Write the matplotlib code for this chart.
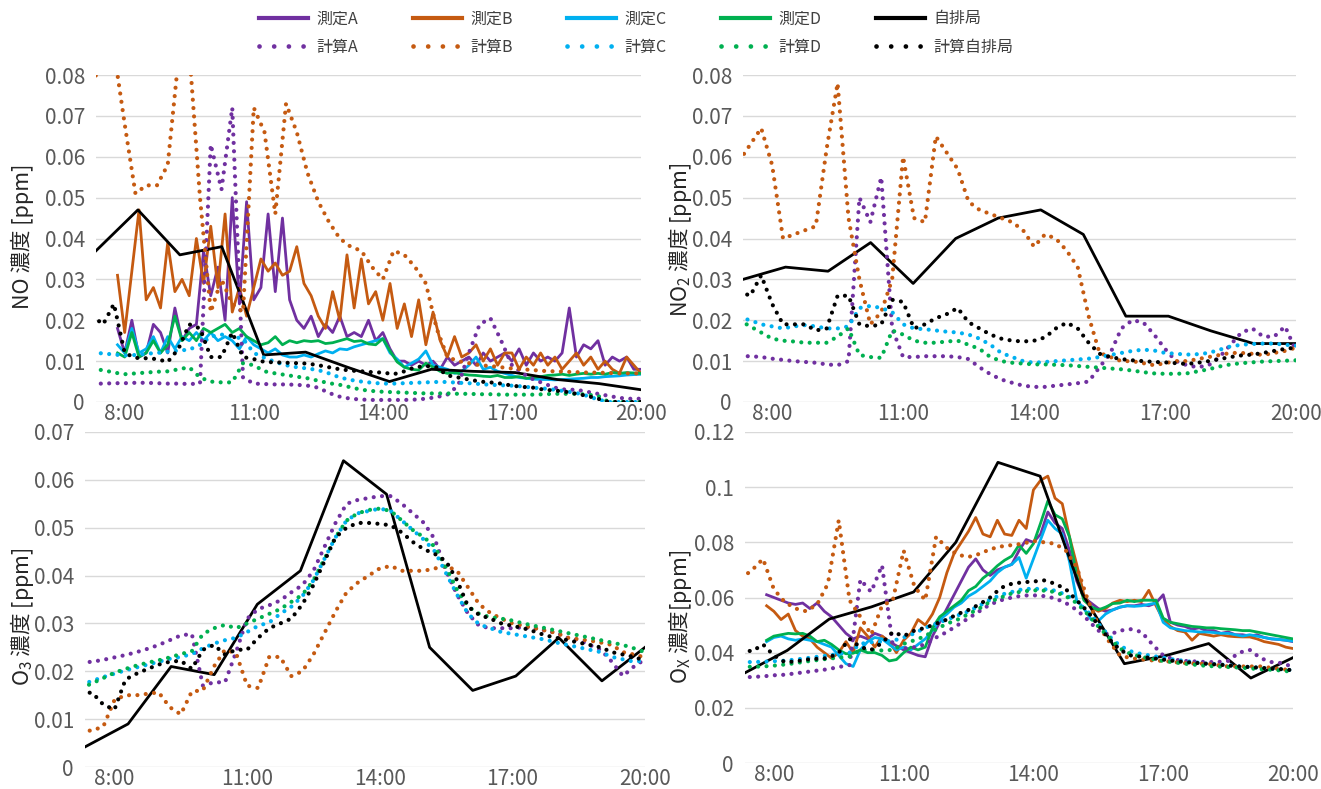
import numpy as np
import matplotlib
matplotlib.use('Agg')
import matplotlib.pyplot as plt
from matplotlib.lines import Line2D
from matplotlib.ticker import FuncFormatter, MultipleLocator

plt.rcParams['font.family'] = ['Noto Sans CJK JP', 'DejaVu Sans']
plt.rcParams['mathtext.default'] = 'regular'

# ---- time grids (hours) ----
t_meas = 7 + 50 / 60 + np.arange(74) / 6      # 測定: 10 min, 7:50-20:00
t_calc = 7.25 + np.arange(52) * 0.25          # 計算: 15 min, 7:15-20:00
t_jihai = np.linspace(7 + 20 / 60, 20, 14)    # 自排局: hourly points across the axis

xticks = [8, 11, 14, 17, 20]
xticklabels = ['8:00', '11:00', '14:00', '17:00', '20:00']

# ---- NO ----
no_meas_a = [
    0.018,
    0.012, 0.020, 0.011, 0.012, 0.019, 0.017,
    0.012, 0.023, 0.015, 0.018, 0.019, 0.037,
    0.026, 0.033, 0.020, 0.050, 0.024, 0.049,
    0.025, 0.028, 0.046, 0.027, 0.045, 0.025,
    0.020, 0.018, 0.021, 0.016, 0.019, 0.017,
    0.021, 0.016, 0.017, 0.016, 0.020, 0.015,
    0.017, 0.013, 0.010, 0.010, 0.009, 0.010,
    0.009, 0.010, 0.008, 0.011, 0.009, 0.010,
    0.011, 0.009, 0.012, 0.010, 0.011, 0.012,
    0.010, 0.013, 0.009, 0.012, 0.010, 0.011,
    0.010, 0.012, 0.023, 0.011, 0.014, 0.013,
    0.015, 0.009, 0.011, 0.010, 0.011, 0.008,
    0.008,
]
no_meas_b = [
    0.031,
    0.017, 0.032, 0.047, 0.025, 0.028, 0.023,
    0.039, 0.027, 0.030, 0.026, 0.040, 0.029,
    0.043, 0.028, 0.046, 0.022, 0.028, 0.021,
    0.028, 0.035, 0.032, 0.034, 0.031, 0.032,
    0.038, 0.029, 0.026, 0.021, 0.018, 0.027,
    0.020, 0.036, 0.023, 0.035, 0.024, 0.027,
    0.020, 0.029, 0.018, 0.024, 0.016, 0.025,
    0.014, 0.022, 0.015, 0.011, 0.016, 0.011,
    0.012, 0.014, 0.010, 0.013, 0.009, 0.012,
    0.012, 0.008, 0.011, 0.009, 0.012, 0.009,
    0.011, 0.008, 0.010, 0.012, 0.009, 0.011,
    0.008, 0.010, 0.008, 0.007, 0.011, 0.009,
    0.007,
]
no_meas_c = [
    0.014,
    0.012, 0.018, 0.012, 0.013, 0.016, 0.012,
    0.016, 0.013, 0.016, 0.015, 0.017, 0.015,
    0.017, 0.015, 0.016, 0.015, 0.013, 0.016,
    0.014, 0.013, 0.012, 0.013, 0.0115, 0.011,
    0.011, 0.0115, 0.011, 0.0118, 0.0125, 0.012,
    0.013, 0.0128, 0.0135, 0.014, 0.0145, 0.015,
    0.0155, 0.012, 0.0105, 0.0085, 0.0095, 0.0105,
    0.0125, 0.009, 0.0085, 0.008, 0.007, 0.0075,
    0.009, 0.011, 0.008, 0.0085, 0.0075, 0.007,
    0.0065, 0.006, 0.0058, 0.0056, 0.0055, 0.0055,
    0.0054, 0.0055, 0.0056, 0.0057, 0.0058, 0.006,
    0.006, 0.0062, 0.0063, 0.0064, 0.0066, 0.0067,
    0.0068,
]
no_meas_d = [
    0.012,
    0.011, 0.017, 0.011, 0.012, 0.015, 0.012,
    0.014, 0.021, 0.015, 0.017, 0.015, 0.018,
    0.017, 0.018, 0.019, 0.017, 0.018, 0.016,
    0.015, 0.014, 0.0145, 0.016, 0.014, 0.015,
    0.0145, 0.015, 0.0148, 0.015, 0.0143, 0.0145,
    0.015, 0.0155, 0.0148, 0.015, 0.0142, 0.014,
    0.0155, 0.0125, 0.0098, 0.0085, 0.008, 0.0078,
    0.0095, 0.0085, 0.0075, 0.007, 0.0072, 0.0068,
    0.0066, 0.0065, 0.0063, 0.0062, 0.0065, 0.006,
    0.006, 0.0062, 0.0058, 0.006, 0.0062, 0.0065,
    0.0066, 0.0068, 0.0065, 0.0068, 0.007, 0.0068,
    0.007, 0.0068, 0.0072, 0.007, 0.0072, 0.0071,
    0.007,
]
no_calc_a = [
    0.0045, 0.0045, 0.0046,
    0.0046, 0.0047, 0.0047, 0.0046,
    0.0045, 0.0045, 0.0044, 0.0045,
    0.063, 0.052, 0.072, 0.006,
    0.0045, 0.0044, 0.0043, 0.0043,
    0.0042, 0.004, 0.0035, 0.0022,
    0.0013, 0.0008, 0.0006, 0.0005,
    0.0005, 0.0005, 0.0005, 0.0006,
    0.0008, 0.0012, 0.0018, 0.004,
    0.012, 0.019, 0.0205, 0.015,
    0.009, 0.007, 0.0055, 0.0045,
    0.0035, 0.003, 0.003, 0.0025,
    0.002, 0.0015, 0.001, 0.0008,
    0.0008,
]
no_calc_b = [
    0.078, 0.084, 0.086,
    0.068, 0.051, 0.053, 0.053,
    0.058, 0.084, 0.086, 0.050,
    0.022, 0.030, 0.024, 0.022,
    0.072, 0.066, 0.046, 0.073,
    0.066, 0.056, 0.049, 0.044,
    0.040, 0.038, 0.037, 0.033,
    0.030, 0.037, 0.036, 0.033,
    0.029, 0.018, 0.011, 0.010,
    0.0095, 0.009, 0.0088, 0.0085,
    0.0082, 0.008, 0.0078, 0.0076,
    0.0075, 0.0074, 0.0073, 0.0072,
    0.0072, 0.0071, 0.007, 0.007,
    0.007,
]
no_calc_c = [
    0.012, 0.0119, 0.0116,
    0.0114, 0.0115, 0.0118, 0.012,
    0.0123, 0.0126, 0.0128, 0.014,
    0.016, 0.0165, 0.016, 0.0155,
    0.012, 0.0108, 0.0098, 0.009,
    0.0085, 0.0082, 0.0078, 0.007,
    0.006, 0.0054, 0.005, 0.0047,
    0.0045, 0.0045, 0.0046, 0.0047,
    0.0048, 0.0049, 0.0049, 0.0047,
    0.0046, 0.0044, 0.0042, 0.0041,
    0.004, 0.0038, 0.0035, 0.0033,
    0.003, 0.0026, 0.0022, 0.0015,
    0.0006, 0.0, 0.0, 0.0,
    0.0,
]
no_calc_d = [
    0.008, 0.0078, 0.0072,
    0.0068, 0.007, 0.0072, 0.0074,
    0.0075, 0.008, 0.0085, 0.006,
    0.005, 0.0048, 0.0048, 0.0095,
    0.009, 0.0075, 0.007, 0.0066,
    0.0062, 0.0058, 0.0052, 0.0046,
    0.0042, 0.0036, 0.003, 0.0027,
    0.0025, 0.0024, 0.0023, 0.0022,
    0.0021, 0.0021, 0.0021, 0.002,
    0.002, 0.0019, 0.0019, 0.0018,
    0.0018, 0.0018, 0.0018, 0.0019,
    0.002, 0.002, 0.002, 0.0018,
    0.0015, 0.0, 0.0, 0.0,
    0.0,
]
no_calc_jihai = [
    0.021, 0.019, 0.024,
    0.012, 0.0108, 0.0107, 0.0105,
    0.0098, 0.013, 0.019, 0.018,
    0.011, 0.011, 0.017, 0.011,
    0.0105, 0.0098, 0.0097, 0.0096,
    0.0095, 0.0094, 0.009, 0.0085,
    0.008, 0.0077, 0.0075, 0.0073,
    0.0072, 0.0068, 0.0075, 0.0085,
    0.0088, 0.0085, 0.0065, 0.006,
    0.0055, 0.005, 0.0048, 0.0045,
    0.004, 0.0037, 0.0035, 0.003,
    0.0028, 0.0025, 0.002, 0.0015,
    0.0008, 0.0, 0.0, 0.0,
    0.0,
]
no_jihai = [0.037, 0.047, 0.036, 0.038, 0.0115, 0.0122, 0.0085,
            0.005, 0.008, 0.0075, 0.0072, 0.0055, 0.0045, 0.003]

# ---- NO2 ----
no2_calc_a = [
    0.0112, 0.0112, 0.011,
    0.0106, 0.0103, 0.010, 0.0098,
    0.0096, 0.0092, 0.009, 0.010,
    0.050, 0.044, 0.055, 0.018,
    0.011, 0.011, 0.0112, 0.0112,
    0.0112, 0.011, 0.0105, 0.0085,
    0.0068, 0.0055, 0.0047, 0.004,
    0.0037, 0.0037, 0.004, 0.0043,
    0.0046, 0.005, 0.0085, 0.012,
    0.018, 0.020, 0.0195, 0.0165,
    0.013, 0.010, 0.009, 0.0085,
    0.009, 0.011, 0.014, 0.017,
    0.018, 0.016, 0.016, 0.0185,
    0.0125,
]
no2_calc_b = [
    0.059, 0.063, 0.067,
    0.058, 0.040, 0.041, 0.042,
    0.043, 0.062, 0.078, 0.045,
    0.030, 0.019, 0.022, 0.030,
    0.060, 0.045, 0.044, 0.065,
    0.061, 0.057, 0.049, 0.047,
    0.046, 0.045, 0.044, 0.042,
    0.038, 0.041, 0.040, 0.037,
    0.033, 0.021, 0.012, 0.011,
    0.010, 0.010, 0.0095, 0.009,
    0.0095, 0.010, 0.010, 0.0105,
    0.011, 0.0115, 0.012, 0.012,
    0.0118, 0.0115, 0.012, 0.0125,
    0.0133,
]
no2_calc_c = [
    0.0207, 0.020, 0.019,
    0.0185, 0.018, 0.0185, 0.0188,
    0.0185, 0.018, 0.018, 0.0185,
    0.023, 0.0235, 0.023, 0.022,
    0.019, 0.018, 0.0178, 0.0175,
    0.0172, 0.017, 0.0165, 0.0155,
    0.014, 0.012, 0.011, 0.010,
    0.0096, 0.0098, 0.010, 0.0102,
    0.0104, 0.0106, 0.011, 0.0115,
    0.012, 0.0125, 0.0128, 0.0126,
    0.012, 0.0118, 0.0116, 0.0117,
    0.012, 0.0128, 0.0136, 0.014,
    0.0142, 0.0143, 0.0143, 0.014,
    0.0138,
]
no2_calc_d = [
    0.020, 0.0185, 0.017,
    0.0155, 0.015, 0.0148, 0.0145,
    0.0145, 0.0145, 0.016, 0.018,
    0.0115, 0.011, 0.0108, 0.0175,
    0.0165, 0.015, 0.0145, 0.0145,
    0.0148, 0.015, 0.014, 0.013,
    0.011, 0.010, 0.0096, 0.0094,
    0.0092, 0.0092, 0.0091, 0.009,
    0.0088, 0.0086, 0.0084, 0.0082,
    0.008, 0.0077, 0.0073, 0.007,
    0.0069, 0.0069, 0.007, 0.0075,
    0.008, 0.0087, 0.0092, 0.0095,
    0.0097, 0.0099, 0.010, 0.0101,
    0.0102,
]
no2_calc_jihai = [
    0.027, 0.026, 0.031,
    0.024, 0.019, 0.019, 0.019,
    0.0175, 0.018, 0.026, 0.026,
    0.019, 0.0185, 0.019, 0.025,
    0.0245, 0.018, 0.019, 0.0205,
    0.0215, 0.023, 0.0195, 0.018,
    0.0165, 0.0155, 0.015, 0.0148,
    0.015, 0.0158, 0.018, 0.0194,
    0.018, 0.0145, 0.0118, 0.011,
    0.0105, 0.0102, 0.010, 0.0098,
    0.0097, 0.0095, 0.0093, 0.0096,
    0.010, 0.0105, 0.011, 0.0114,
    0.0116, 0.012, 0.0125, 0.013,
    0.0133,
]
no2_jihai = [0.030, 0.033, 0.032, 0.039, 0.029, 0.040, 0.045,
             0.047, 0.041, 0.021, 0.021, 0.0174, 0.0143, 0.0143]

# ---- O3 ----
o3_calc_a = [
    0.0218, 0.022, 0.0224,
    0.0229, 0.0234, 0.024, 0.0247,
    0.0255, 0.0265, 0.0275, 0.0278,
    0.017, 0.0177, 0.0177, 0.024,
    0.031, 0.033, 0.0338, 0.0348,
    0.0365, 0.038, 0.041, 0.046,
    0.051, 0.055, 0.0558, 0.0562,
    0.0566, 0.0566, 0.055, 0.053,
    0.051, 0.0475, 0.041, 0.036,
    0.032, 0.0295, 0.029, 0.029,
    0.029, 0.0292, 0.029, 0.0285,
    0.028, 0.027, 0.0265, 0.0255,
    0.0245, 0.022, 0.019, 0.021,
    0.0225,
]
o3_calc_b = [
    0.0076, 0.0076, 0.0085,
    0.014, 0.015, 0.015, 0.0153,
    0.0156, 0.0125, 0.011, 0.0158,
    0.016, 0.021, 0.0245, 0.0238,
    0.017, 0.0165, 0.023, 0.023,
    0.019, 0.020, 0.0235, 0.028,
    0.0325, 0.0365, 0.0385, 0.040,
    0.0415, 0.042, 0.041, 0.041,
    0.041, 0.0415, 0.042, 0.041,
    0.0375, 0.034, 0.0322, 0.031,
    0.030, 0.0295, 0.029, 0.0285,
    0.028, 0.027, 0.0267, 0.0264,
    0.026, 0.0255, 0.024, 0.0235,
    0.0229,
]
o3_calc_c = [
    0.0172, 0.018, 0.0188,
    0.0195, 0.0202, 0.0208, 0.0214,
    0.022, 0.0226, 0.023, 0.0236,
    0.0248, 0.0258, 0.0265, 0.027,
    0.0282, 0.0295, 0.0302, 0.032,
    0.0335, 0.0357, 0.039, 0.0435,
    0.048, 0.0515, 0.053, 0.0535,
    0.054, 0.0535, 0.0515, 0.0495,
    0.0475, 0.045, 0.0405, 0.036,
    0.032, 0.0298, 0.029, 0.0282,
    0.0278, 0.0274, 0.027, 0.0266,
    0.026, 0.0255, 0.025, 0.0245,
    0.024, 0.023, 0.0225, 0.022,
    0.0222,
]
o3_calc_d = [
    0.0165, 0.0175, 0.0186,
    0.0197, 0.0205, 0.0212, 0.0218,
    0.0223, 0.0229, 0.0236, 0.0242,
    0.0278, 0.029, 0.0297, 0.029,
    0.030, 0.031, 0.032, 0.033,
    0.0345, 0.036, 0.039, 0.0435,
    0.048, 0.0515, 0.053, 0.0537,
    0.054, 0.0535, 0.0515, 0.0495,
    0.048, 0.046, 0.0417, 0.037,
    0.0335, 0.032, 0.0313, 0.031,
    0.0306, 0.030, 0.0295, 0.029,
    0.0285, 0.028, 0.0275, 0.027,
    0.0265, 0.026, 0.0255, 0.0248,
    0.024,
]
o3_calc_jihai = [
    0.0156, 0.0155, 0.013,
    0.012, 0.0183, 0.0195, 0.0205,
    0.0214, 0.022, 0.0222, 0.0205,
    0.0245, 0.0255, 0.0235, 0.0245,
    0.0245, 0.027, 0.029, 0.030,
    0.031, 0.034, 0.038, 0.043,
    0.048, 0.050, 0.051, 0.051,
    0.0508, 0.0505, 0.049, 0.047,
    0.0455, 0.0445, 0.043, 0.039,
    0.0335, 0.0318, 0.031, 0.030,
    0.0295, 0.029, 0.0283, 0.0275,
    0.027, 0.0265, 0.026, 0.0255,
    0.025, 0.024, 0.0235, 0.023,
    0.0222,
]
o3_jihai = [0.0042, 0.009, 0.021, 0.0193, 0.034, 0.041, 0.064,
            0.057, 0.025, 0.016, 0.019, 0.027, 0.018, 0.025]

# ---- Ox ----
ox_meas_a = [
    0.061,
    0.060, 0.059, 0.058, 0.0575, 0.058, 0.056,
    0.058, 0.055, 0.053, 0.050, 0.047, 0.045,
    0.046, 0.045, 0.047, 0.046, 0.044, 0.0425,
    0.041, 0.040, 0.039, 0.0385, 0.046, 0.051,
    0.056, 0.061, 0.066, 0.071, 0.074, 0.070,
    0.068, 0.070, 0.071, 0.072, 0.077, 0.081,
    0.080, 0.083, 0.091, 0.087, 0.085, 0.077,
    0.066, 0.060, 0.058, 0.056, 0.055, 0.0555,
    0.0565, 0.057, 0.057, 0.0575, 0.057, 0.058,
    0.061, 0.051, 0.050, 0.0495, 0.0485, 0.049,
    0.048, 0.048, 0.047, 0.0475, 0.0465, 0.0465,
    0.046, 0.0465, 0.0455, 0.045, 0.0448, 0.0445,
    0.044,
]
ox_meas_b = [
    0.057,
    0.055, 0.052, 0.054, 0.048, 0.046, 0.045,
    0.042, 0.040, 0.038, 0.040, 0.044, 0.040,
    0.049, 0.046, 0.042, 0.046, 0.044, 0.040,
    0.0445, 0.047, 0.052, 0.050, 0.054, 0.060,
    0.069, 0.076, 0.080, 0.084, 0.089, 0.083,
    0.082, 0.088, 0.083, 0.0825, 0.088, 0.085,
    0.099, 0.1025, 0.104, 0.096, 0.094, 0.082,
    0.072, 0.061, 0.0565, 0.055, 0.056, 0.058,
    0.059, 0.0585, 0.059, 0.0585, 0.0626, 0.057,
    0.052, 0.0495, 0.048, 0.0475, 0.0445, 0.047,
    0.0465, 0.046, 0.0465, 0.046, 0.0458, 0.0457,
    0.0457, 0.045, 0.044, 0.0435, 0.043, 0.042,
    0.0415,
]
ox_meas_c = [
    0.044,
    0.0455, 0.046, 0.045, 0.0445, 0.045, 0.0445,
    0.044, 0.043, 0.042, 0.039, 0.036, 0.035,
    0.041, 0.044, 0.0455, 0.045, 0.043, 0.041,
    0.042, 0.041, 0.043, 0.045, 0.048, 0.052,
    0.054, 0.0565, 0.058, 0.0605, 0.062, 0.064,
    0.066, 0.069, 0.071, 0.072, 0.0745, 0.067,
    0.074, 0.081, 0.088, 0.085, 0.083, 0.073,
    0.059, 0.056, 0.052, 0.0515, 0.054, 0.0555,
    0.0565, 0.057, 0.0568, 0.057, 0.0575, 0.058,
    0.051, 0.049, 0.0485, 0.048, 0.0478, 0.0475,
    0.0475, 0.0473, 0.047, 0.047, 0.0465, 0.046,
    0.0465, 0.046, 0.0455, 0.045, 0.0448, 0.0445,
    0.0442,
]
ox_meas_d = [
    0.0445,
    0.046, 0.0465, 0.047, 0.0468, 0.047, 0.046,
    0.044, 0.0445, 0.043, 0.041, 0.0396, 0.0398,
    0.041, 0.040, 0.040, 0.039, 0.037, 0.0375,
    0.040, 0.042, 0.041, 0.042, 0.049, 0.053,
    0.055, 0.057, 0.059, 0.0625, 0.064, 0.067,
    0.069, 0.0715, 0.0735, 0.075, 0.079, 0.076,
    0.0795, 0.087, 0.095, 0.090, 0.0885, 0.082,
    0.068, 0.059, 0.0566, 0.0555, 0.0565, 0.0578,
    0.058, 0.059, 0.0585, 0.059, 0.059, 0.059,
    0.0525, 0.051, 0.0505, 0.050, 0.0495, 0.0493,
    0.049, 0.049, 0.0487, 0.0485, 0.0483, 0.048,
    0.048, 0.0475, 0.047, 0.0465, 0.046, 0.0455,
    0.045,
]
ox_calc_a = [
    0.031, 0.0312, 0.0314,
    0.0318, 0.032, 0.0325, 0.033,
    0.0335, 0.034, 0.0348, 0.0355,
    0.0665, 0.062, 0.0717, 0.0425,
    0.0415, 0.042, 0.043, 0.0455,
    0.0475, 0.050, 0.0525, 0.055,
    0.0575, 0.059, 0.060, 0.0607,
    0.0608, 0.0605, 0.0597, 0.058,
    0.0555, 0.052, 0.048, 0.0465,
    0.048, 0.0485, 0.0475, 0.043,
    0.039, 0.0375, 0.037, 0.0368,
    0.0366, 0.0366, 0.037, 0.040,
    0.041, 0.038, 0.0366, 0.0362,
    0.0348,
]
ox_calc_b = [
    0.067, 0.070, 0.074,
    0.063, 0.0584, 0.056, 0.055,
    0.0575, 0.065, 0.088, 0.059,
    0.053, 0.0465, 0.057, 0.059,
    0.077, 0.064, 0.059, 0.082,
    0.078, 0.0755, 0.0747, 0.0758,
    0.0775, 0.0785, 0.079, 0.0795,
    0.0805, 0.080, 0.0795, 0.077,
    0.071, 0.0595, 0.050, 0.044,
    0.039, 0.038, 0.0376, 0.0372,
    0.037, 0.0366, 0.0362, 0.036,
    0.036, 0.0355, 0.035, 0.035,
    0.035, 0.035, 0.0345, 0.034,
    0.0336,
]
ox_calc_c = [
    0.0366, 0.0366, 0.0367,
    0.0369, 0.0371, 0.0375, 0.038,
    0.0385, 0.039, 0.0395, 0.040,
    0.0432, 0.0438, 0.044, 0.0443,
    0.0455, 0.047, 0.049, 0.0505,
    0.052, 0.0535, 0.055, 0.057,
    0.0592, 0.061, 0.062, 0.063,
    0.0632, 0.063, 0.0625, 0.061,
    0.0585, 0.055, 0.0505, 0.046,
    0.0425, 0.0405, 0.0395, 0.0388,
    0.0382, 0.0375, 0.037, 0.0365,
    0.036, 0.0358, 0.0355, 0.035,
    0.0348, 0.0345, 0.0342, 0.034,
    0.0336,
]
ox_calc_d = [
    0.0348, 0.0349, 0.035,
    0.0353, 0.0357, 0.0362, 0.0368,
    0.0373, 0.0378, 0.0382, 0.0386,
    0.041, 0.041, 0.0408, 0.041,
    0.0432, 0.0445, 0.046, 0.0485,
    0.0505, 0.052, 0.054, 0.056,
    0.0585, 0.060, 0.0615, 0.0622,
    0.0626, 0.0625, 0.062, 0.0605,
    0.058, 0.054, 0.0495, 0.0455,
    0.0415, 0.0395, 0.0385, 0.0377,
    0.037, 0.0365, 0.036, 0.0356,
    0.0352, 0.035, 0.0348, 0.0346,
    0.0343, 0.034, 0.0338, 0.0335,
    0.033,
]
ox_calc_jihai = [
    0.041, 0.0405, 0.043,
    0.039, 0.0366, 0.0368, 0.0375,
    0.0378, 0.038, 0.040, 0.045,
    0.042, 0.041, 0.0435, 0.0475,
    0.046, 0.048, 0.049, 0.0505,
    0.052, 0.054, 0.0555, 0.0575,
    0.060, 0.0635, 0.065, 0.0655,
    0.0658, 0.0662, 0.065, 0.063,
    0.059, 0.055, 0.050, 0.045,
    0.041, 0.039, 0.0385, 0.038,
    0.0375, 0.037, 0.0366, 0.0363,
    0.036, 0.0357, 0.0354, 0.035,
    0.0348, 0.0345, 0.0342, 0.034,
    0.0336,
]
ox_jihai = [0.0327, 0.0408, 0.0522, 0.0566, 0.062, 0.080, 0.109,
            0.104, 0.0614, 0.036, 0.039, 0.0433, 0.0308, 0.0382]

# ---- style ----
colors = {'A': '#7030A0', 'B': '#C55A11', 'C': '#00B0F0', 'D': '#00B050', 'J': '#000000'}
solid_lw = 2.0
dot_lw = 3.0
dot_style = (0, (0.01, 2.0))
text_col = '#595959'


def draw_panel(ax, meas, calc, jihai, ymax, ystep):
    for key, vals in meas:
        ax.plot(t_meas, vals, color=colors[key], lw=solid_lw, solid_joinstyle='round')
    ax.plot(t_jihai, jihai, color=colors['J'], lw=solid_lw)
    for key, vals in calc:
        ax.plot(t_calc, vals, color=colors[key], lw=dot_lw, linestyle=dot_style,
                dash_capstyle='round')
    ax.set_xlim(7 + 20 / 60, 20)
    ax.set_ylim(0, ymax)
    ax.yaxis.set_major_locator(MultipleLocator(ystep))
    ax.yaxis.set_major_formatter(FuncFormatter(lambda v, p: '{:g}'.format(round(v, 4))))
    ax.set_xticks(xticks)
    ax.set_xticklabels(xticklabels)
    ax.grid(axis='y', color='#D9D9D9', lw=1.0)
    ax.set_axisbelow(True)
    for s in ax.spines.values():
        s.set_visible(False)
    ax.tick_params(axis='both', length=0, labelsize=15, colors=text_col)
    ax.tick_params(axis='x', pad=1)
    ax.tick_params(axis='y', pad=8)


fig = plt.figure(figsize=(13.21, 7.89), dpi=100)
W, H = 1321, 789


def box(x0, x1, ytop, ybot):
    return [x0 / W, 1 - ybot / H, (x1 - x0) / W, (ybot - ytop) / H]


ax_no = fig.add_axes(box(96, 641, 75, 402))
ax_no2 = fig.add_axes(box(743, 1296, 75, 402))
ax_o3 = fig.add_axes(box(85, 645, 432, 767))
ax_ox = fig.add_axes(box(745, 1293, 432, 763))

draw_panel(ax_no,
           [('A', no_meas_a), ('B', no_meas_b), ('C', no_meas_c), ('D', no_meas_d)],
           [('A', no_calc_a), ('B', no_calc_b), ('C', no_calc_c), ('D', no_calc_d),
            ('J', no_calc_jihai)],
           no_jihai, 0.08, 0.01)
draw_panel(ax_no2, [],
           [('A', no2_calc_a), ('B', no2_calc_b), ('C', no2_calc_c), ('D', no2_calc_d),
            ('J', no2_calc_jihai)],
           no2_jihai, 0.08, 0.01)
draw_panel(ax_o3, [],
           [('A', o3_calc_a), ('B', o3_calc_b), ('C', o3_calc_c), ('D', o3_calc_d),
            ('J', o3_calc_jihai)],
           o3_jihai, 0.07, 0.01)
draw_panel(ax_ox,
           [('A', ox_meas_a), ('B', ox_meas_b), ('C', ox_meas_c), ('D', ox_meas_d)],
           [('A', ox_calc_a), ('B', ox_calc_b), ('C', ox_calc_c), ('D', ox_calc_d),
            ('J', ox_calc_jihai)],
           ox_jihai, 0.12, 0.02)

# y labels
ylab_kw = dict(rotation=90, ha='center', va='center', fontsize=15.5, color='#262626')
fig.text(22 / W, 1 - 236 / H, 'NO 濃度 [ppm]', **ylab_kw)
fig.text(680 / W, 1 - 240 / H, 'NO$_2$ 濃度 [ppm]', **ylab_kw)
fig.text(22 / W, 1 - 617 / H, 'O$_3$ 濃度 [ppm]', **ylab_kw)
fig.text(680 / W, 1 - 617 / H, 'O$_X$ 濃度[ppm]', **ylab_kw)

# legend (column-major so that 測定 is row 1, 計算 is row 2)
names_meas = ['測定A', '測定B', '測定C', '測定D', '自排局']
names_calc = ['計算A', '計算B', '計算C', '計算D', '計算自排局']
handles, labels = [], []
for key, nm, nc in zip(['A', 'B', 'C', 'D', 'J'], names_meas, names_calc):
    handles.append(Line2D([], [], color=colors[key], lw=3.0))
    labels.append(nm)
    handles.append(Line2D([], [], color=colors[key], lw=3.4, linestyle=(0, (0.01, 3.1)),
                          dash_capstyle='round'))
    labels.append(nc)
fig.legend(handles, labels, ncol=5, loc='center', bbox_to_anchor=(636 / W, 1 - 33 / H),
           frameon=False, fontsize=11.5, handlelength=3.1, handletextpad=0.5,
           columnspacing=3.4, labelspacing=0.7, labelcolor='#404040')

fig.savefig('out.png', dpi=100)
